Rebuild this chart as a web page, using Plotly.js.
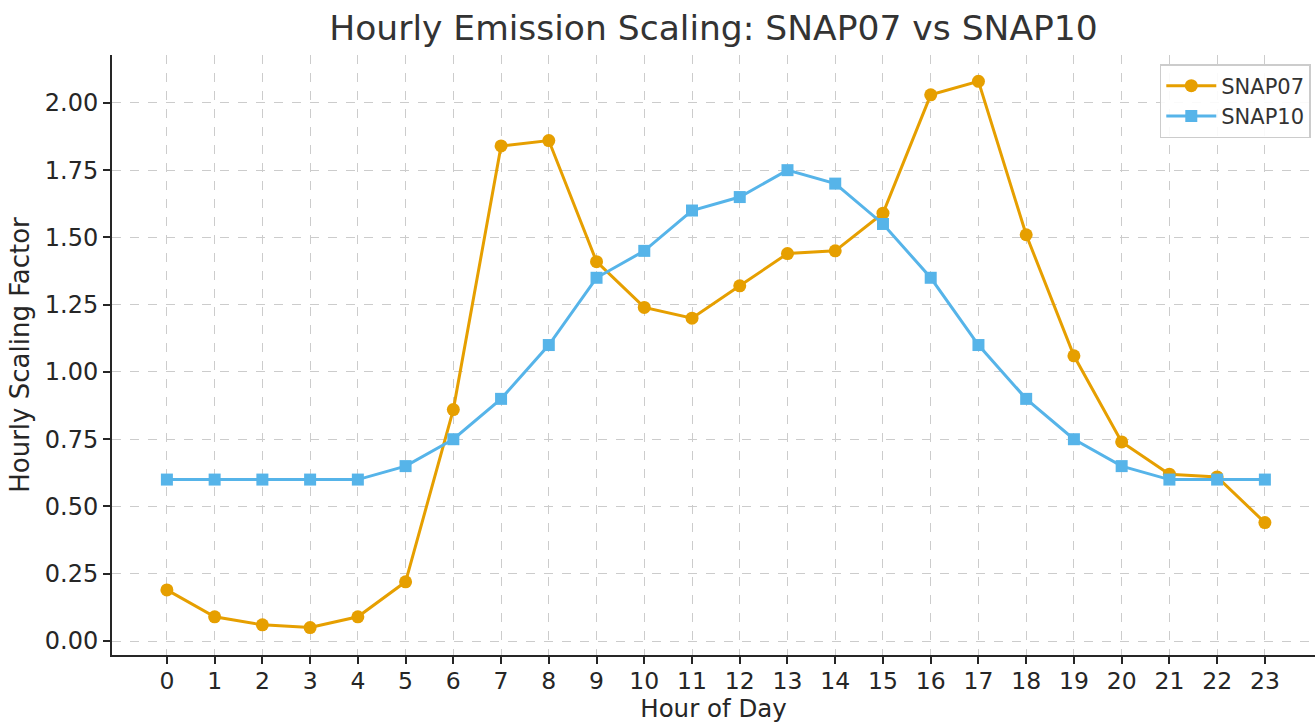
<!DOCTYPE html>
<html><head><meta charset="utf-8">
<script src="https://cdn.plot.ly/plotly-3.0.1.min.js"></script>
<style>html,body{margin:0;padding:0;background:#fff}#chart{width:1315px;height:723px}</style>
</head><body><div id="chart"></div>
<script>
const hours = [0,1,2,3,4,5,6,7,8,9,10,11,12,13,14,15,16,17,18,19,20,21,22,23];
const snap07 = [0.19,0.09,0.06,0.05,0.09,0.22,0.86,1.84,1.86,1.41,1.24,1.20,1.32,1.44,1.45,1.59,2.03,2.08,1.51,1.06,0.74,0.62,0.61,0.44];
const snap10 = [0.60,0.60,0.60,0.60,0.60,0.65,0.75,0.90,1.10,1.35,1.45,1.60,1.65,1.75,1.70,1.55,1.35,1.10,0.90,0.75,0.65,0.60,0.60,0.60];
const yTicks = [0,0.25,0.5,0.75,1.0,1.25,1.5,1.75,2.0];

const font = 'DejaVu Sans, sans-serif';
const traces = [
  {x: hours, y: snap07, name: 'SNAP07', mode: 'lines+markers', type: 'scatter',
   line: {color: '#E69F00', width: 3}, marker: {color: '#E69F00', size: 13, symbol: 'circle'}},
  {x: hours, y: snap10, name: 'SNAP10', mode: 'lines+markers', type: 'scatter',
   line: {color: '#56B4E9', width: 3}, marker: {color: '#56B4E9', size: 12, symbol: 'square'}}
];
const layout = {
  width: 1315, height: 723,
  margin: {l: 112, r: 0, t: 55, b: 68},
  paper_bgcolor: '#fff', plot_bgcolor: '#fff',
  font: {family: font, color: '#262626'},
  title: {text: 'Hourly Emission Scaling: SNAP07 vs SNAP10', xref: 'paper', x: 0.5, xanchor: 'center', y: 0.978, yanchor: 'top',
          font: {size: 34.5, color: '#333', family: font}},
  xaxis: {
    range: [-1.15, 24.05], tickmode: 'array', tickvals: hours, ticktext: hours.map(String),
    showgrid: true, gridcolor: '#cccccc', griddash: 'dash', gridwidth: 1,
    showline: true, linecolor: '#262626', linewidth: 2, mirror: false,
    ticks: 'outside', ticklen: 7, tickwidth: 1.5, tickcolor: '#262626', ticklabelstandoff: -3,
    tickfont: {size: 23.5, color: '#262626'}, zeroline: false,
    title: {text: 'Hour of Day', font: {size: 24.5, color: '#262626'}, standoff: 12}
  },
  yaxis: {
    range: [-0.052, 2.178], tickmode: 'array', tickvals: yTicks, ticktext: yTicks.map(v => v.toFixed(2)),
    showgrid: true, gridcolor: '#cccccc', griddash: 'dash', gridwidth: 1,
    showline: true, linecolor: '#262626', linewidth: 2, mirror: false,
    ticks: 'outside', ticklen: 7, tickwidth: 1.5, tickcolor: '#262626',
    tickfont: {size: 24, color: '#262626'}, zeroline: false,
    title: {text: 'Hourly Scaling Factor', font: {size: 26, color: '#262626'}, standoff: 8}
  },
  legend: {x: 0.9965, y: 0.985, xanchor: 'right', yanchor: 'top', bgcolor: 'rgba(255,255,255,0.9)',
           bordercolor: '#cccccc', borderwidth: 1.5, font: {size: 21, color: '#333'}, itemwidth: 50,
           tracegroupgap: 4},
  showlegend: true
};
Plotly.newPlot('chart', traces, layout, {displayModeBar: false, responsive: false});
</script></body></html>
